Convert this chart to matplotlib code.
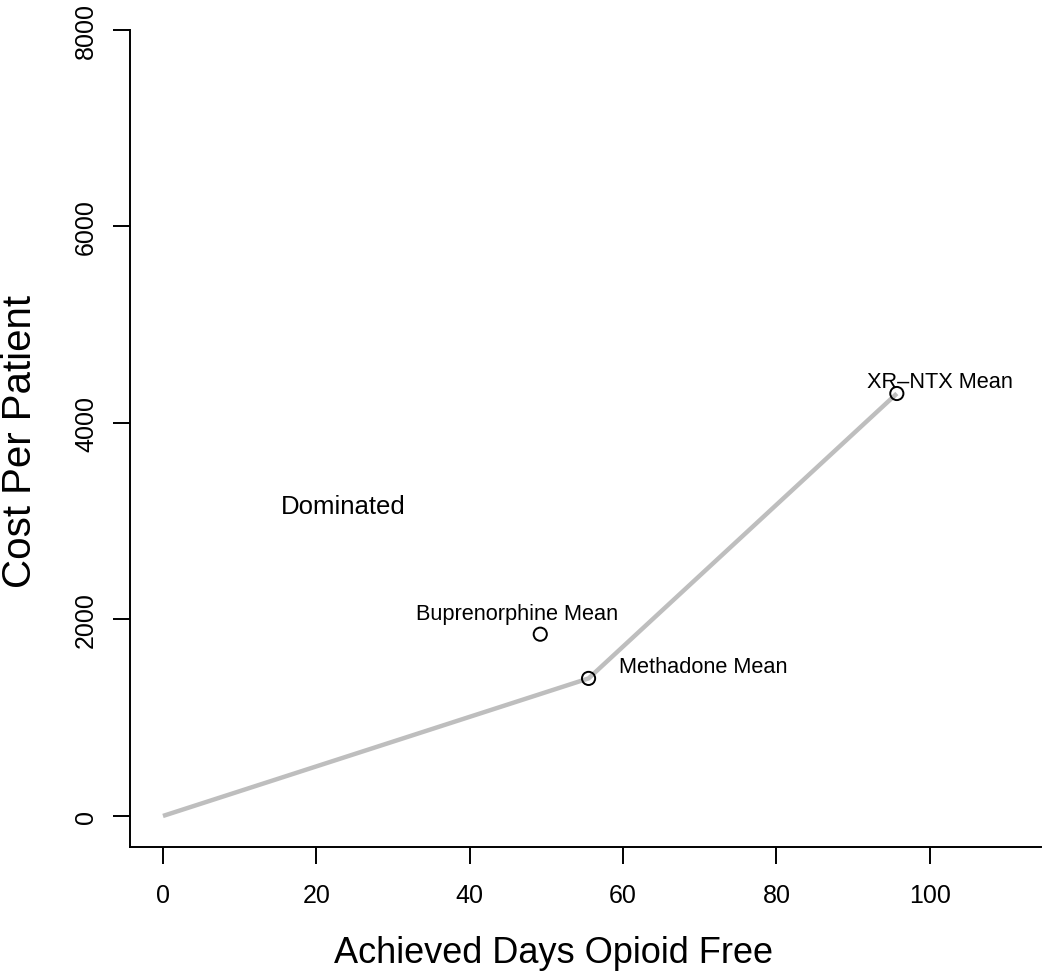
import numpy as np
import matplotlib.pyplot as plt

plt.rcParams['font.family'] = ['Liberation Sans', 'DejaVu Sans']

# frontier line
frontier_x = [0, 55.5, 95.7]
frontier_y = [0, 1400, 4300]

# means
labels = ['Buprenorphine Mean', 'Methadone Mean', 'XR\u2013NTX Mean']
mean_x = [49.2, 55.5, 95.7]
mean_y = [1850, 1400, 4300]

xticks = [0, 20, 40, 60, 80, 100]
yticks = [0, 2000, 4000, 6000, 8000]

fig = plt.figure(figsize=(10.5, 9.78), dpi=100)
ax = fig.add_axes([130 / 1050, 1 - 848 / 978, (1041 - 130) / 1050, (848 - 31) / 978])

ax.plot(frontier_x, frontier_y, color='#bebebe', lw=3.2, solid_capstyle='butt', zorder=1)
ax.scatter(mean_x, mean_y, s=90, facecolors='none', edgecolors='black', linewidths=1.4, zorder=2)

ax.text(46.2, 2060, labels[0], fontsize=15.7, ha='center', va='center')
ax.text(59.5, 1520, labels[1], fontsize=15.7, ha='left', va='center')
ax.text(101.3, 4420, labels[2], fontsize=15.7, ha='center', va='center')
ax.text(23.5, 3150, 'Dominated', fontsize=18.5, ha='center', va='center')

ax.set_xlim(-4.3, 114.5)
ax.set_ylim(-316, 8000)
ax.set_xticks(xticks)
ax.set_yticks(yticks)
ax.set_yticklabels([str(v) for v in yticks], rotation=90, va='center')
ax.tick_params(direction='out', length=12, width=1.4, labelsize=18)
ax.tick_params(axis='x', pad=14)
ax.tick_params(axis='y', pad=11)

for s in ['top', 'right']:
    ax.spines[s].set_visible(False)
for s in ['left', 'bottom']:
    ax.spines[s].set_linewidth(1.4)

fig.text(553 / 1050, 1 - 954 / 978, 'Achieved Days Opioid Free', fontsize=26, ha='center', va='center')
fig.text(20 / 1050, 1 - 442 / 978, 'Cost Per Patient', fontsize=29, rotation=90, ha='center', va='center')

fig.savefig('out.png', dpi=100)
